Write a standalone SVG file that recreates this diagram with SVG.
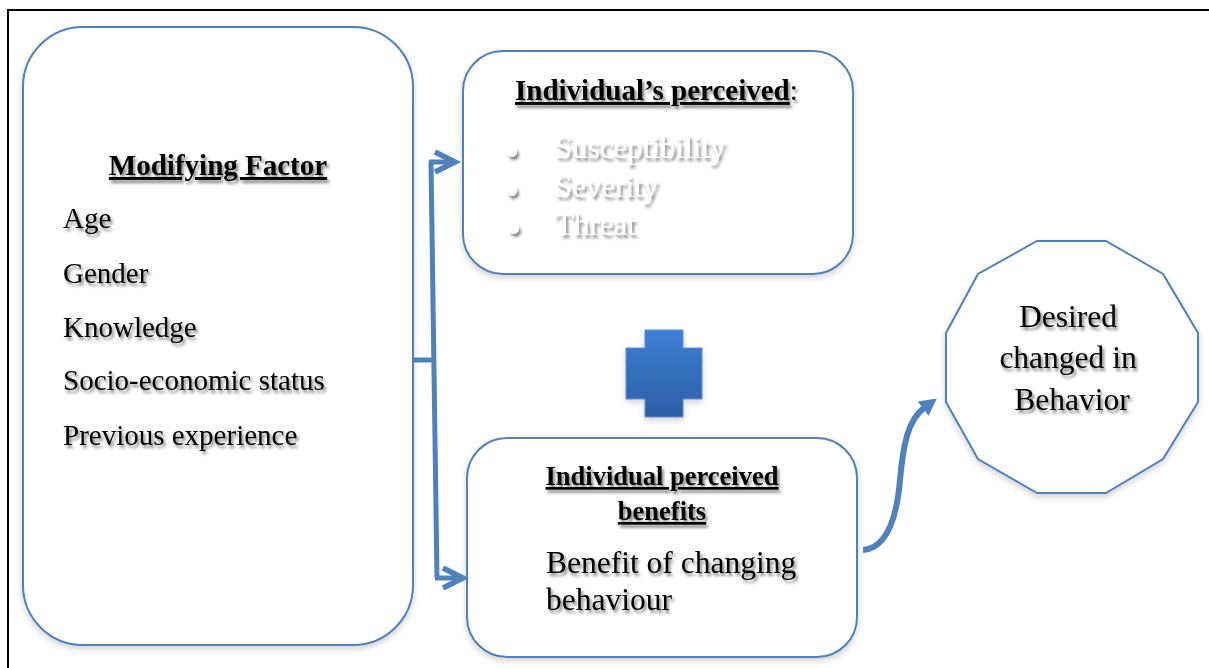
<svg xmlns="http://www.w3.org/2000/svg" width="1209" height="668" viewBox="0 0 1209 668">
<style>
.box{fill:#fff;stroke:#4f81bd;stroke-width:2;filter:url(#bs)}
.t{font-family:"Liberation Serif","Times New Roman",serif;fill:#000;filter:url(#ts)}
.w{font-family:"Liberation Serif","Times New Roman",serif;fill:#fff;filter:url(#ts)}
.bul{font-family:"DejaVu Sans",sans-serif;fill:#fff;filter:url(#ts)}
.b{font-weight:bold;text-decoration:underline}
.con{fill:none;stroke:#4f81bd;stroke-width:5}
</style>
<defs>
<filter id="ts" x="-10%" y="-40%" width="130%" height="190%">
<feDropShadow dx="2" dy="3" stdDeviation="1.8" flood-color="#000" flood-opacity="0.5"/>
</filter>
<filter id="bs" x="-10%" y="-10%" width="120%" height="125%">
<feDropShadow dx="0" dy="3" stdDeviation="3" flood-color="#000" flood-opacity="0.18"/>
</filter>
<linearGradient id="pg" x1="0" y1="0" x2="0" y2="1">
<stop offset="0" stop-color="#3d7fd3"/>
<stop offset="1" stop-color="#2c5fa6"/>
</linearGradient>
<marker id="chev" markerUnits="userSpaceOnUse" markerWidth="1" markerHeight="1" refX="0" refY="0" orient="auto" overflow="visible">
<path d="M-20,-10 L0,0 L-20,10" fill="none" stroke="#4f81bd" stroke-width="5.5" stroke-linejoin="miter"/>
</marker>
<marker id="tri" markerUnits="userSpaceOnUse" markerWidth="1" markerHeight="1" refX="0" refY="0" orient="auto" overflow="visible">
<path d="M-1,-9 L16,0 L-1,9 z" fill="#4f81bd"/>
</marker>
</defs>
<rect width="1209" height="668" fill="#fff"/>
<path d="M8,668 V10 H1209" fill="none" stroke="#000" stroke-width="2"/>

<g id="modifying-factor">
<rect class="box" x="23" y="27" width="390" height="618" rx="60" ry="60"/>
<text class="t b" x="218" y="175" font-size="29" text-anchor="middle">Modifying Factor</text>
<text class="t" x="63" y="228" font-size="29">Age</text>
<text class="t" x="63" y="283" font-size="29">Gender</text>
<text class="t" x="63" y="337" font-size="29">Knowledge</text>
<text class="t" x="63" y="390" font-size="29">Socio-economic status</text>
<text class="t" x="63" y="445" font-size="29">Previous experience</text>
</g>

<g id="perceived">
<rect class="box" x="463" y="51" width="390" height="223" rx="40" ry="40"/>
<text class="t" x="515" y="100" font-size="29"><tspan class="b">Individual’s perceived</tspan>:</text>
<text class="bul" font-size="13" text-anchor="middle">
<tspan x="514" y="155">●</tspan>
<tspan x="514" y="194">●</tspan>
<tspan x="514" y="232">●</tspan>
</text>
<text class="w" font-size="31">
<tspan x="555" y="158">Susceptibility</tspan>
<tspan x="555" y="197">Severity</tspan>
<tspan x="555" y="235">Threat</tspan>
</text>
</g>

<g id="plus">
<path d="M645,330 H683 V348 H702 V399 H683 V417 H645 V399 H626 V348 H645 Z" fill="url(#pg)" stroke="#5a8fd2" stroke-width="1" filter="url(#bs)"/>
</g>

<g id="benefits">
<rect class="box" x="467" y="438" width="390" height="219" rx="40" ry="40"/>
<text class="t b" x="662" y="485" font-size="26.5" text-anchor="middle">Individual perceived</text>
<text class="t b" x="662" y="520" font-size="26.5" text-anchor="middle">benefits</text>
<text class="t" x="546" y="573" font-size="31.5">Benefit of changing</text>
<text class="t" x="546" y="610" font-size="31.5">behaviour</text>
</g>

<g id="desired-change">
<polygon class="box" points="1037,241 1106,241 1163,274 1198,333 1198,402 1163,459 1106,493 1037,493 978,459 946,402 946,333 978,274"/>
<text class="t" font-size="31.5" text-anchor="middle">
<tspan x="1072" y="327">Desired</tspan>
<tspan x="1072" y="368">changed in</tspan>
<tspan x="1072" y="410">Behavior</tspan>
</text>
</g>

<g id="connectors">
<path class="con" d="M413,360 H434"/>
<path class="con" d="M431,162 L437,578"/>
<path class="con" d="M429,162 H455" marker-end="url(#chev)"/>
<path class="con" d="M435,578 H463" marker-end="url(#chev)"/>
<path class="con" style="stroke-width:6" d="M863,550 C888,548 897,515 900,480 C903,445 908,420 924,408" marker-end="url(#tri)"/>
</g>
</svg>
